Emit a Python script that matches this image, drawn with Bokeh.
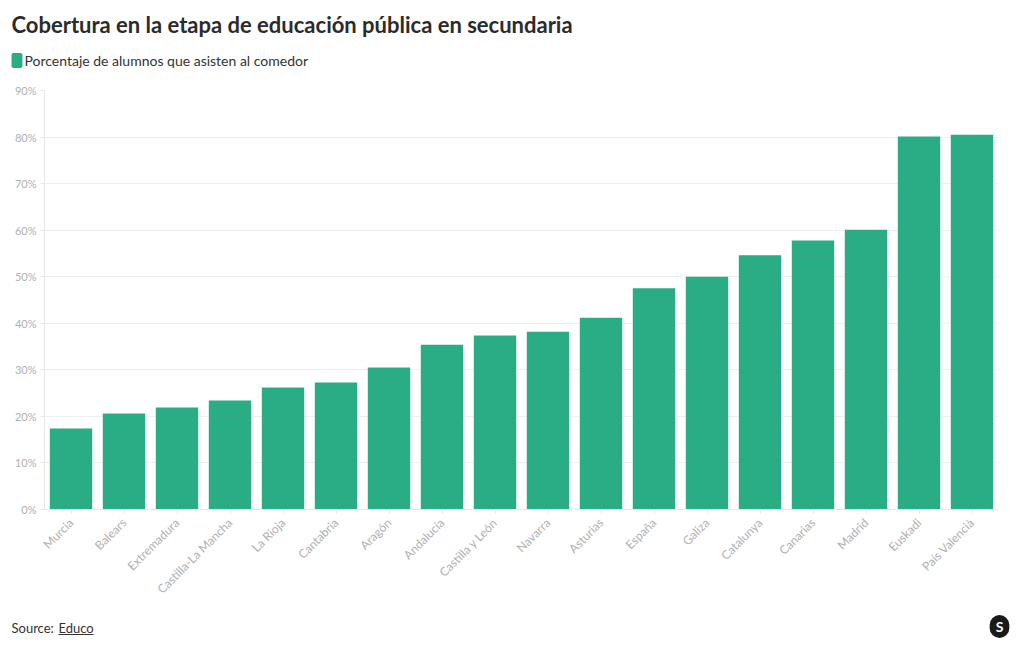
from bokeh.plotting import figure
from bokeh.models import Label, FixedTicker, Range1d
from bokeh.layouts import column
from bokeh.embed import file_html
from bokeh.resources import INLINE
from math import pi

regions = ["Murcia", "Balears", "Extremadura", "Castilla-La Mancha", "La Rioja",
           "Cantabria", "Aragón", "Andalucía", "Castilla y León", "Navarra",
           "Asturias", "España", "Galiza", "Catalunya", "Canarias", "Madrid",
           "Euskadi", "País Valencià"]
pct = [17.4, 20.6, 21.9, 23.4, 26.2, 27.3, 30.5, 35.4, 37.4, 38.2,
       41.2, 47.5, 50.0, 54.6, 57.8, 60.1, 80.1, 80.5]
y_ticks = [0, 10, 20, 30, 40, 50, 60, 70, 80, 90]
y_tick_labels = {t: f"{t}%" for t in y_ticks}

title_text = "Cobertura en la etapa de educación pública en secundaria"
legend_text = "Porcentaje de alumnos que asisten al comedor"
source_text = "Source:"
source_link = "Educo"

GREEN = "#2aad84"
FONT = "Lato"
W = 1012
HEAD_H, CHART_H, FOOT_H = 82, 522, 44


def blank(h):
    f = figure(width=W, height=h, output_backend="svg", toolbar_location=None,
               x_range=Range1d(0, W), y_range=Range1d(0, h),
               x_axis_type=None, y_axis_type=None,
               min_border=0, min_border_left=0, min_border_right=0,
               min_border_top=0, min_border_bottom=0)
    f.grid.visible = False
    f.outline_line_color = None
    return f


def lab(f, x, y, text, size, color="#333333", style="normal", **kw):
    f.add_layout(Label(x=x, y=y, text=text, text_font=FONT, text_font_size=size,
                       text_color=color, text_font_style=style,
                       text_baseline="middle", **kw))


# header: title + legend
head = blank(HEAD_H)
lab(head, 11, 58, title_text, "22px", "#2b2b2b", "bold")
lab(head, 11, 22, "\u2007", "12px", background_fill_color=GREEN,
    border_radius=2, padding=(2, 0))
lab(head, 24, 22, legend_text, "14px", "#333333")

# chart
p = figure(x_range=regions, y_range=(0, 90), width=W, height=CHART_H,
           output_backend="svg", toolbar_location=None,
           min_border_left=44, min_border_right=W - 998, min_border_top=8,
           min_border_bottom=CHART_H - (509 - HEAD_H))
p.outline_line_color = None
p.vbar(x=regions, top=pct, width=0.8, color=GREEN, line_color=None)

p.x_range.range_padding = 0
p.xgrid.grid_line_color = None
p.ygrid.grid_line_color = "#efefef"
p.ygrid.ticker = FixedTicker(ticks=y_ticks)
p.yaxis.ticker = FixedTicker(ticks=y_ticks)
p.yaxis.major_label_overrides = y_tick_labels
for ax in (p.xaxis[0], p.yaxis[0]):
    ax.axis_line_color = "#e6e6e6"
    ax.major_tick_line_color = "#e6e6e6"
    ax.major_tick_out = 4
    ax.major_tick_in = 0
    ax.minor_tick_line_color = None
    ax.major_label_text_color = "#b0b0b0"
    ax.major_label_text_font = FONT
p.yaxis.major_label_text_font_size = "11px"
p.yaxis.major_label_standoff = 4
p.xaxis.major_label_text_font_size = "12px"
p.xaxis.major_label_standoff = 7
p.xaxis.major_label_orientation = pi / 4

# footer: source (with underlined link) + logo
foot = blank(FOOT_H)
lab(foot, 11, 21, source_text, "13px", "#333333")
lab(foot, 58, 21, source_link, "13px", "#333333")
foot.line(x=[58, 93], y=[14, 14], line_color="#333333", line_width=1)
lab(foot, 999, 22, "S", "14px", "white", "bold", text_align="center",
    background_fill_color="#1a1a1a", border_radius=11, padding=(6, 3))

layout = column(column(head), p, column(foot), spacing=0)
open("out.html", "w").write(file_html(layout, INLINE))
